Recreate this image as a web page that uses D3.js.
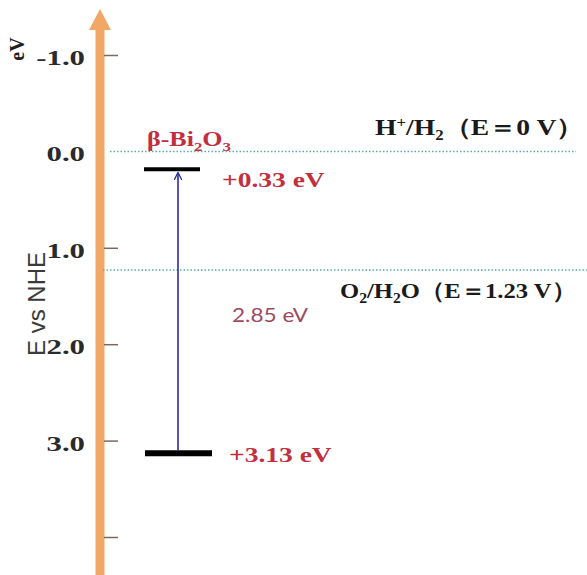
<!DOCTYPE html>
<html>
<head>
<meta charset="utf-8">
<script src="https://cdn.jsdelivr.net/npm/d3@7"></script>
<style>
  body { margin: 0; background: #fff; }
  svg { display: block; }
</style>
</head>
<body>
<script>
// values
const tickValues = [-1, 0, 1, 2, 3, 4]
const tickLabels = ['-1.0', '0.0', '1.0', '2.0', '3.0', '']
const redoxNames = ['H2', 'O2']
const redoxValues = [0, 1.23]
const bandNames = ['CB', 'VB']
const bandValues = [0.33, 3.13]
const bandGap = 2.85

const W = 587, H = 575

const svg = d3.select('body').append('svg')
    .attr('width', W)
    .attr('height', H)

// y scale: -1 at top tick, 4 at bottom tick
const y = d3.scaleLinear().domain([-1, 4]).range([55, 537])
const axisX = 100
const orange = '#f1a765'
const red = '#c22f3f'
const navy = '#2b2a9c'
const serif = '"Liberation Serif", "DejaVu Serif", serif'

// the source picture is wider than its fonts, so texts get stretched
function stretched(x, yy, sx, size) {
    return svg.append('text')
        .attr('transform', `translate(${x},${yy}) scale(${sx},1)`)
        .attr('font-family', serif)
        .attr('font-weight', 'bold')
        .attr('font-size', size)
}

svg.append('defs').append('marker')
    .attr('id', 'blueHead')
    .attr('viewBox', '0 0 10 10')
    .attr('refX', 9).attr('refY', 5)
    .attr('markerWidth', 8).attr('markerHeight', 8)
    .attr('markerUnits', 'userSpaceOnUse')
    .attr('orient', 'auto')
    .append('path')
    .attr('d', 'M0,0 L10,5 L0,10')
    .attr('fill', 'none')
    .attr('stroke', navy)
    .attr('stroke-width', 1.6)

// orange axis with arrow head
svg.append('rect')
    .attr('x', axisX - 4.5).attr('y', 24)
    .attr('width', 9).attr('height', H - 24)
    .attr('fill', orange)
svg.append('path')
    .attr('d', `M${axisX - 11},30 L${axisX},9 L${axisX + 11},30 Z`)
    .attr('fill', orange)

// ticks via d3 axis
const axis = d3.axisRight(y)
    .tickValues(tickValues.filter(d => d !== 0))
    .tickSize(14)
    .tickFormat('')
const gAxis = svg.append('g')
    .attr('transform', `translate(${axisX + 4},0)`)
    .call(axis)
gAxis.select('.domain').remove()
gAxis.selectAll('.tick line')
    .attr('stroke', '#7a6a5a')
    .attr('stroke-width', 1.5)

// tick labels
svg.append('g').selectAll('text')
    .data(tickValues)
    .join('text')
    .attr('transform', d => `translate(85,${y(d) + 10}) scale(1.4,1)`)
    .attr('text-anchor', 'end')
    .attr('font-family', serif)
    .attr('font-weight', 'bold')
    .attr('font-size', 22)
    .attr('fill', '#2a2a2a')
    .text((d, i) => tickLabels[i])

// axis titles
svg.append('text')
    .attr('transform', `translate(24,49) rotate(-90)`)
    .attr('text-anchor', 'middle')
    .attr('font-family', serif)
    .attr('font-weight', 'bold')
    .attr('font-size', 20)
    .attr('fill', '#222')
    .text('eV')
svg.append('text')
    .attr('transform', `translate(45,304) rotate(-90)`)
    .attr('text-anchor', 'middle')
    .attr('font-family', '"Liberation Sans", Arial, sans-serif')
    .attr('font-size', 24)
    .attr('fill', '#3a3a3a')
    .text('E vs NHE')

// redox potential dotted lines
const redoxX = { H2: [110, 576], O2: [103, 587] }
svg.append('g').selectAll('line')
    .data(redoxValues)
    .join('line')
    .attr('x1', (d, i) => redoxX[redoxNames[i]][0])
    .attr('x2', (d, i) => redoxX[redoxNames[i]][1])
    .attr('y1', d => y(d))
    .attr('y2', d => y(d))
    .attr('stroke', '#5aae9c')
    .attr('stroke-width', 1.5)
    .attr('stroke-dasharray', '1.5,2')

const h2 = stretched(375, y(redoxValues[0]) - 16, 1.2, 23).attr('fill', '#1a1a1a')
h2.append('tspan').text('H')
h2.append('tspan').attr('dy', -8).attr('font-size', 14).text('+')
h2.append('tspan').attr('dy', 8).text('/H')
h2.append('tspan').attr('dy', 5).attr('font-size', 14).text('2')
h2.append('tspan').attr('dy', -5).text('\uFF08E\uFF1D0 V\uFF09')

const o2 = stretched(340, y(redoxValues[1]) + 28, 1.12, 22).attr('fill', '#1a1a1a')
o2.append('tspan').text('O')
o2.append('tspan').attr('dy', 5).attr('font-size', 14).text('2')
o2.append('tspan').attr('dy', -5).text('/H')
o2.append('tspan').attr('dy', 5).attr('font-size', 14).text('2')
o2.append('tspan').attr('dy', -5).text('O\uFF08E\uFF1D1.23 V\uFF09')

// band edges (the conduction band sits a little higher in the source drawing)
const bandX = { CB: [144, 200], VB: [145, 212] }
const bandW = { CB: 4, VB: 6 }
const bandShift = { CB: -14, VB: 0 }
const bandY = (d, i) => y(d) + bandShift[bandNames[i]]
svg.append('g').selectAll('line')
    .data(bandValues)
    .join('line')
    .attr('x1', (d, i) => bandX[bandNames[i]][0])
    .attr('x2', (d, i) => bandX[bandNames[i]][1])
    .attr('y1', bandY)
    .attr('y2', bandY)
    .attr('stroke', '#000')
    .attr('stroke-width', (d, i) => bandW[bandNames[i]])

svg.append('g').selectAll('text')
    .data(bandValues)
    .join('text')
    .attr('transform', (d, i) => `translate(${i === 0 ? 222 : 229},${bandY(d, i) + (i === 0 ? 18 : 9)}) scale(1.25,1)`)
    .attr('font-family', serif)
    .attr('font-weight', 'bold')
    .attr('font-size', 22)
    .attr('fill', red)
    .text(d => `+${d.toFixed(2)} eV`)

// beta-Bi2O3 label
const bi = stretched(147, y(0) - 5, 1.3, 20).attr('fill', red)
bi.append('tspan').text('\u03B2-Bi')
bi.append('tspan').attr('dy', 5).attr('font-size', 13).text('2')
bi.append('tspan').attr('dy', -5).text('O')
bi.append('tspan').attr('dy', 5).attr('font-size', 13).text('3')

// excitation arrow
svg.append('line')
    .attr('x1', 178).attr('x2', 178)
    .attr('y1', bandY(bandValues[1], 1) - 3)
    .attr('y2', bandY(bandValues[0], 0) + 4)
    .attr('stroke', navy)
    .attr('stroke-width', 1.6)
    .attr('marker-end', 'url(#blueHead)')

svg.append('text')
    .attr('transform', 'translate(232,322) scale(1.13,1)')
    .attr('font-family', 'Lato, "Open Sans", sans-serif')
    .attr('font-size', 20)
    .attr('fill', '#9b4a62')
    .text(`${bandGap} eV`)
</script>
</body>
</html>
